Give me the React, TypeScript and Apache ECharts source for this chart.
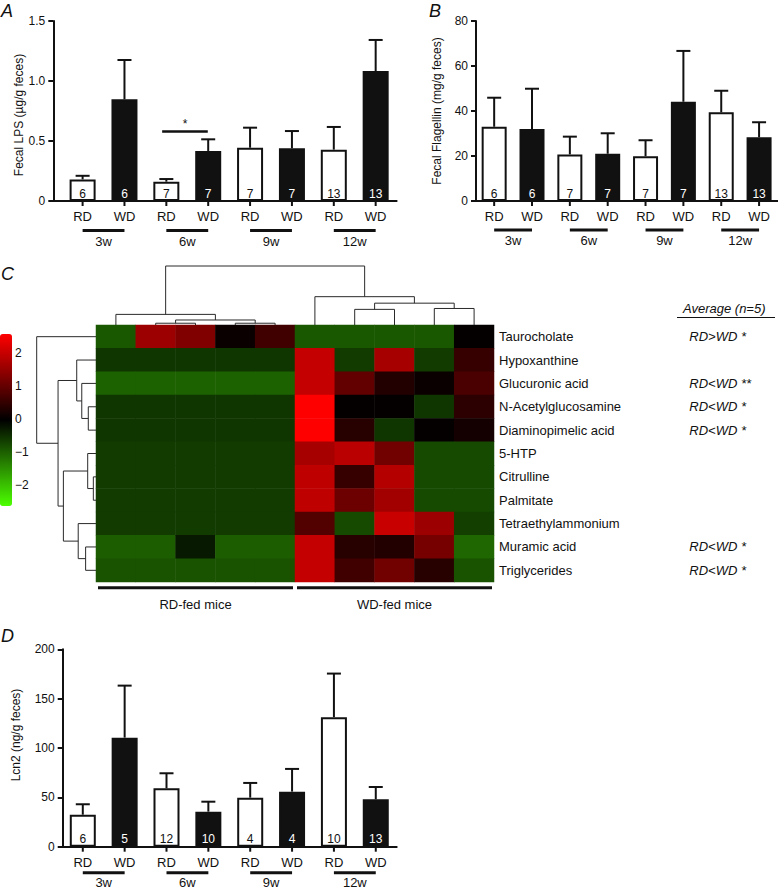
import React, { useEffect, useRef } from 'react';
import * as echarts from 'echarts';

// ---------- data ----------
const groups = ['3w', '6w', '9w', '12w'];
const diets = ['RD', 'WD'];

const lpsMean = [0.18, 0.847, 0.161, 0.417, 0.444, 0.439, 0.428, 1.083];
const lpsErr = [0.03, 0.328, 0.022, 0.097, 0.167, 0.144, 0.189, 0.259];
const lpsN = [6, 6, 7, 7, 7, 7, 13, 13];
const lpsSigPair = [2, 3];
const lpsSigLevel = 0.583;
const lpsSigText = '*';

const flaMean = [33.0, 32.0, 20.7, 21.0, 19.9, 44.1, 39.4, 28.3];
const flaErr = [12.9, 17.9, 7.9, 9.1, 7.1, 22.6, 9.6, 6.7];
const flaN = [6, 6, 7, 7, 7, 7, 13, 13];

const lcnMean = [32.4, 110.5, 59.2, 35.5, 49.7, 55.8, 131.2, 48.0];
const lcnErr = [10.6, 52.7, 15.2, 10.1, 14.9, 23.0, 44.2, 12.5];
const lcnN = [6, 5, 12, 10, 4, 4, 10, 13];

const sampleIds = ['RD1', 'RD2', 'RD3', 'RD4', 'RD5', 'WD1', 'WD2', 'WD3', 'WD4', 'WD5'];
const metabolites = [
  'Taurocholate', 'Hypoxanthine', 'Glucuronic acid', 'N-Acetylglucosamine', 'Diaminopimelic acid',
  '5-HTP', 'Citrulline', 'Palmitate', 'Tetraethylammonium', 'Muramic acid', 'Triglycerides',
];
const averages = ['RD>WD *', '', 'RD<WD **', 'RD<WD *', 'RD<WD *', '', '', '', '', 'RD<WD *', 'RD<WD *'];
const heatValues = [
  [-0.9, 1.6, 1.3, 0.1, 0.65, -0.9, -0.9, -0.9, -0.9, 0.05],
  [-0.55, -0.55, -0.55, -0.55, -0.55, 2.0, -0.6, 1.7, -0.6, 0.55],
  [-1.0, -1.0, -1.0, -1.0, -1.0, 2.0, 1.0, 0.35, 0.1, 0.75],
  [-0.55, -0.55, -0.55, -0.55, -0.55, 2.6, 0.05, 0.05, -0.55, 0.45],
  [-0.55, -0.55, -0.55, -0.55, -0.55, 2.6, 0.4, -0.55, 0.05, 0.2],
  [-0.6, -0.6, -0.6, -0.6, -0.6, 1.7, 1.9, 1.15, -0.75, -0.75],
  [-0.6, -0.6, -0.6, -0.6, -0.6, 1.95, 0.55, 1.85, -0.75, -0.75],
  [-0.6, -0.6, -0.6, -0.6, -0.6, 1.95, 1.1, 1.65, -0.75, -0.75],
  [-0.6, -0.6, -0.6, -0.6, -0.6, 0.85, -0.75, 2.05, 1.6, -0.65],
  [-0.95, -0.95, -0.25, -0.95, -0.95, 2.0, 0.4, 0.35, 1.2, -1.05],
  [-0.85, -0.85, -0.85, -0.85, -0.85, 2.0, 0.65, 1.15, 0.4, -0.85],
];
// linkage: [childA, childB, height (fraction of root)]
const colLinkage = [
  [1, 2, 0.03], [3, 4, 0.03], [10, 11, 0.085], [0, 12, 0.18],
  [6, 7, 0.265], [8, 9, 0.28], [14, 15, 0.37], [5, 16, 0.48], [13, 17, 1.0],
];
const rowLinkage = [
  [3, 4, 0.13], [2, 11, 0.24], [1, 12, 0.325], [6, 7, 0.045], [5, 14, 0.14],
  [9, 10, 0.175], [8, 16, 0.3], [15, 17, 0.55], [13, 18, 0.64], [0, 19, 1.0],
];
const sampleGroups = [[0, 4, 'RD-fed mice'], [5, 9, 'WD-fed mice']];
const colorbarTicks = [2, 1, 0, -1, -2];
const colorRange = [-2.6, 2.6];

// ---------- styling ----------
const FONT = '"Liberation Sans", Arial, Helvetica, sans-serif';
const INK = '#111111';

type Panel = {
  mean: number[]; err: number[]; n: number[];
  grid: { left: number; top: number; width: number; height: number };
  xMin: number; xMax: number; yMax: number; yInterval: number;
  yName: string; nameGap: number; namePad: number[];
  barWidth: number; labelDy: number; lineDy: number; groupDy: number;
  yFmt: (v: number) => string; sig?: boolean;
};

function addPanel(p: Panel, grids: any[], xAxes: any[], yAxes: any[], series: any[]) {
  const gi = grids.length;
  grids.push({ ...p.grid });
  xAxes.push({
    type: 'value', gridIndex: gi, min: p.xMin, max: p.xMax,
    axisLine: { show: true, onZero: false, lineStyle: { color: INK, width: 2 } },
    axisTick: { show: false }, axisLabel: { show: false }, splitLine: { show: false },
  });
  yAxes.push({
    type: 'value', gridIndex: gi, min: 0, max: p.yMax, interval: p.yInterval,
    name: p.yName, nameLocation: 'middle', nameGap: p.nameGap, nameRotate: 90,
    nameTextStyle: { fontSize: 12, fontFamily: FONT, color: INK, padding: p.namePad },
    axisLine: { show: true, onZero: false, lineStyle: { color: INK, width: 2 } },
    axisTick: { show: true, length: 5, lineStyle: { color: INK, width: 2 } },
    axisLabel: { fontSize: 12, fontFamily: FONT, color: INK, margin: 8, formatter: p.yFmt },
    splitLine: { show: false },
  });
  const ax = xAxes.length - 1;
  const ay = yAxes.length - 1;
  const bar: any = {
    type: 'bar', xAxisIndex: ax, yAxisIndex: ay, barWidth: p.barWidth, silent: true,
    data: p.mean.map((v, i) => ({
      value: [i, v],
      itemStyle: { color: i % 2 === 0 ? '#ffffff' : INK, borderColor: INK, borderWidth: 2 },
      label: { color: i % 2 === 0 ? INK : '#ffffff' },
    })),
    label: {
      show: true, position: 'insideBottom', distance: 1.5, fontSize: 12, fontFamily: FONT,
      formatter: (prm: any) => String(p.n[prm.dataIndex]),
    },
  };
  if (p.sig) {
    bar.markLine = {
      silent: true, symbol: ['none', 'none'],
      lineStyle: { color: INK, width: 2.5, type: 'solid' },
      label: { show: true, position: 'middle', formatter: lpsSigText, fontSize: 12, fontFamily: FONT, color: INK, distance: 1 },
      emphasis: { disabled: true },
      data: [[{ coord: [lpsSigPair[0] - 0.1, lpsSigLevel] }, { coord: [lpsSigPair[1] - 0.01, lpsSigLevel] }]],
    };
  }
  series.push(bar);
  series.push({
    type: 'custom', xAxisIndex: ax, yAxisIndex: ay, clip: false, silent: true,
    data: p.mean.map((v, i) => [i, v, p.err[i]]),
    encode: { x: 0, y: 1 },
    renderItem: (_params: any, api: any) => {
      const x = api.value(0), m = api.value(1), e = api.value(2);
      const a = api.coord([x, m]);
      const b = api.coord([x, m + e]);
      return {
        type: 'group', children: [
          { type: 'line', shape: { x1: a[0], y1: a[1], x2: b[0], y2: b[1] }, style: { stroke: INK, lineWidth: 2 } },
          { type: 'line', shape: { x1: b[0] - 7, y1: b[1], x2: b[0] + 7, y2: b[1] }, style: { stroke: INK, lineWidth: 2 } },
        ],
      };
    },
  });
  series.push({
    type: 'custom', xAxisIndex: ax, yAxisIndex: ay, clip: false, silent: true,
    data: groups.map((_g, g) => [g * 2, 0, g * 2 + 1]),
    encode: { x: [0, 2], y: 1 },
    renderItem: (params: any, api: any) => {
      const a = api.coord([api.value(0), 0]);
      const b = api.coord([api.value(2), 0]);
      const children: any[] = [];
      [a, b].forEach((pt: number[], k: number) => {
        children.push({ type: 'line', shape: { x1: pt[0], y1: pt[1], x2: pt[0], y2: pt[1] + 5 }, style: { stroke: INK, lineWidth: 2 } });
        children.push({
          type: 'text',
          style: { text: diets[k], x: pt[0], y: pt[1] + p.labelDy, align: 'center', verticalAlign: 'middle', fontSize: 13, fontFamily: FONT, fill: INK },
        });
      });
      children.push({ type: 'line', shape: { x1: a[0], y1: a[1] + p.lineDy, x2: b[0], y2: b[1] + p.lineDy }, style: { stroke: INK, lineWidth: 3 } });
      children.push({
        type: 'text',
        style: { text: groups[params.dataIndex], x: (a[0] + b[0]) / 2, y: a[1] + p.groupDy, align: 'center', verticalAlign: 'middle', fontSize: 13, fontFamily: FONT, fill: INK },
      });
      return { type: 'group', children };
    },
  });
}

function dendro(links: number[][], leafPos: number[], base: number, span: number, columns: boolean) {
  const pos = [...leafPos];
  const hts = leafPos.map(() => 0);
  const out: any[] = [];
  links.forEach(([a, b, h]) => {
    const pts = [
      [pos[a], base - hts[a] * span], [pos[a], base - h * span],
      [pos[b], base - h * span], [pos[b], base - hts[b] * span],
    ];
    out.push({
      type: 'polyline',
      shape: { points: columns ? pts : pts.map(([u, v]) => [v, u]) },
      style: { stroke: '#2a2a2a', lineWidth: 1, fill: null },
    });
    pos.push((pos[a] + pos[b]) / 2);
    hts.push(h);
  });
  return out;
}

function buildOption() {
  const grids: any[] = [];
  const xAxes: any[] = [];
  const yAxes: any[] = [];
  const series: any[] = [];

  addPanel({
    mean: lpsMean, err: lpsErr, n: lpsN,
    grid: { left: 53.3, top: 21, width: 343.3, height: 180 },
    xMin: -0.7, xMax: 7.5, yMax: 1.5, yInterval: 0.5,
    yName: 'Fecal LPS (µg/g feces)', nameGap: 25, namePad: [0, 8, 0, 0],
    barWidth: 26, labelDy: 15.7, lineDy: 29.5, groupDy: 40,
    yFmt: (v: number) => (v === 0 ? '0' : v.toFixed(1)), sig: true,
  }, grids, xAxes, yAxes, series);

  addPanel({
    mean: flaMean, err: flaErr, n: flaN,
    grid: { left: 476, top: 21, width: 302, height: 180 },
    xMin: -0.48, xMax: 7.5, yMax: 80, yInterval: 20,
    yName: 'Fecal Flagellin (mg/g feces)', nameGap: 33, namePad: [0, 0, 0, 0],
    barWidth: 25, labelDy: 15.7, lineDy: 29, groupDy: 39.7,
    yFmt: (v: number) => String(v),
  }, grids, xAxes, yAxes, series);

  addPanel({
    mean: lcnMean, err: lcnErr, n: lcnN,
    grid: { left: 62.7, top: 649.3, width: 334, height: 197.4 },
    xMin: -0.48, xMax: 7.5, yMax: 200, yInterval: 50,
    yName: 'Lcn2 (ng/g feces)', nameGap: 40.7, namePad: [0, 0, 0, 26],
    barWidth: 26, labelDy: 15.8, lineDy: 26, groupDy: 36,
    yFmt: (v: number) => String(v),
  }, grids, xAxes, yAxes, series);

  // heatmap grid
  const hg = grids.length;
  grids.push({ left: 96, top: 325, width: 398, height: 257 });
  xAxes.push({ type: 'category', gridIndex: hg, data: sampleIds, show: false });
  const hx = xAxes.length - 1;
  yAxes.push({
    type: 'category', gridIndex: hg, data: metabolites, inverse: true, position: 'right',
    axisLine: { show: false }, axisTick: { show: false },
    axisLabel: { fontSize: 13, fontFamily: FONT, color: INK, margin: 5 },
  });
  const hy = yAxes.length - 1;
  yAxes.push({
    type: 'category', gridIndex: hg, data: metabolites, inverse: true, position: 'right', offset: 190.3,
    axisLine: { show: false }, axisTick: { show: false },
    axisLabel: { fontSize: 13, fontFamily: FONT, fontStyle: 'italic', color: INK, margin: 5, formatter: (_v: string, i: number) => averages[i] },
  });
  const heatIndex = series.length;
  series.push({
    type: 'heatmap', xAxisIndex: hx, yAxisIndex: hy, silent: true,
    data: heatValues.flatMap((row, r) => row.map((v, c) => [c, r, v])),
    itemStyle: { borderWidth: 0 },
    emphasis: { disabled: true },
  });
  series.push({
    type: 'custom', xAxisIndex: hx, yAxisIndex: hy, clip: false, silent: true,
    data: [[0, 0]],
    renderItem: (_params: any, api: any) => {
      const cell = api.size([1, 1]);
      const colX = sampleIds.map((_s, i) => api.coord([i, 0])[0]);
      const rowY = metabolites.map((_m, r) => api.coord([0, r])[1]);
      const top = api.coord([0, 0])[1] - cell[1] / 2;
      const left = api.coord([0, 0])[0] - cell[0] / 2;
      return {
        type: 'group',
        children: [
          ...dendro(colLinkage, colX, top, 59, true),
          ...dendro(rowLinkage, rowY, left, 59.3, false),
        ],
      };
    },
  });
  series.push({
    type: 'custom', xAxisIndex: hx, yAxisIndex: hy, clip: false, silent: true,
    data: sampleGroups.map((g) => [g[0], metabolites.length - 1, g[1]]),
    encode: { x: [0, 2], y: 1 },
    renderItem: (params: any, api: any) => {
      const cell = api.size([1, 1]);
      const a = api.coord([api.value(0), api.value(1)]);
      const b = api.coord([api.value(2), api.value(1)]);
      const bottom = a[1] + cell[1] / 2;
      const x1 = a[0] - cell[0] / 2 + 2;
      const x2 = b[0] + cell[0] / 2 - 2;
      return {
        type: 'group', children: [
          { type: 'line', shape: { x1, y1: bottom + 5.7, x2, y2: bottom + 5.7 }, style: { stroke: INK, lineWidth: 3 } },
          {
            type: 'text',
            style: { text: String(sampleGroups[params.dataIndex][2]), x: (x1 + x2) / 2, y: bottom + 22, align: 'center', verticalAlign: 'middle', fontSize: 13, fontFamily: FONT, fill: INK },
          },
        ],
      };
    },
  });

  const cbTop = 334, cbH = 172;
  const graphic: any[] = [
    ...colorbarTicks.map((t) => ({
      type: 'text', left: 15,
      top: cbTop + ((colorRange[1] - t) / (colorRange[1] - colorRange[0])) * cbH - 7,
      style: { text: t < 0 ? '\u2212' + Math.abs(t) : String(t), fontSize: 12, fontFamily: FONT, fill: INK },
    })),
    { type: 'text', left: 683, top: 302, style: { text: 'Average (n=5)', fontSize: 13, fontStyle: 'italic', fontFamily: FONT, fill: INK } },
    { type: 'line', shape: { x1: 677, y1: 317.5, x2: 775, y2: 317.5 }, style: { stroke: INK, lineWidth: 1.2 } },
    { type: 'text', left: 1, top: 2, style: { text: 'A', fontSize: 18, fontStyle: 'italic', fontFamily: FONT, fill: INK } },
    { type: 'text', left: 429, top: 2, style: { text: 'B', fontSize: 18, fontStyle: 'italic', fontFamily: FONT, fill: INK } },
    { type: 'text', left: 1, top: 265, style: { text: 'C', fontSize: 18, fontStyle: 'italic', fontFamily: FONT, fill: INK } },
    { type: 'text', left: 1, top: 627, style: { text: 'D', fontSize: 18, fontStyle: 'italic', fontFamily: FONT, fill: INK } },
  ];

  return {
    animation: false,
    backgroundColor: '#ffffff',
    textStyle: { fontFamily: FONT },
    grid: grids,
    xAxis: xAxes,
    yAxis: yAxes,
    visualMap: {
      type: 'continuous', seriesIndex: heatIndex, dimension: 2,
      min: colorRange[0], max: colorRange[1], calculable: false, show: true,
      left: 0, top: cbTop, itemWidth: 12, itemHeight: cbH, padding: 0,
      inRange: { color: ['#4cff00', '#000000', '#ff0000'] },
    },
    graphic,
    series,
  };
}

export default function App() {
  const ref = useRef<HTMLDivElement>(null);
  useEffect(() => {
    if (!ref.current) return;
    const chart = echarts.init(ref.current, undefined, { renderer: 'svg' });
    chart.setOption(buildOption());
    return () => chart.dispose();
  }, []);
  return (
    <div
      ref={ref}
      style={{ position: 'absolute', left: 0, top: 0, width: 778, height: 890, background: '#ffffff' }}
    />
  );
}
